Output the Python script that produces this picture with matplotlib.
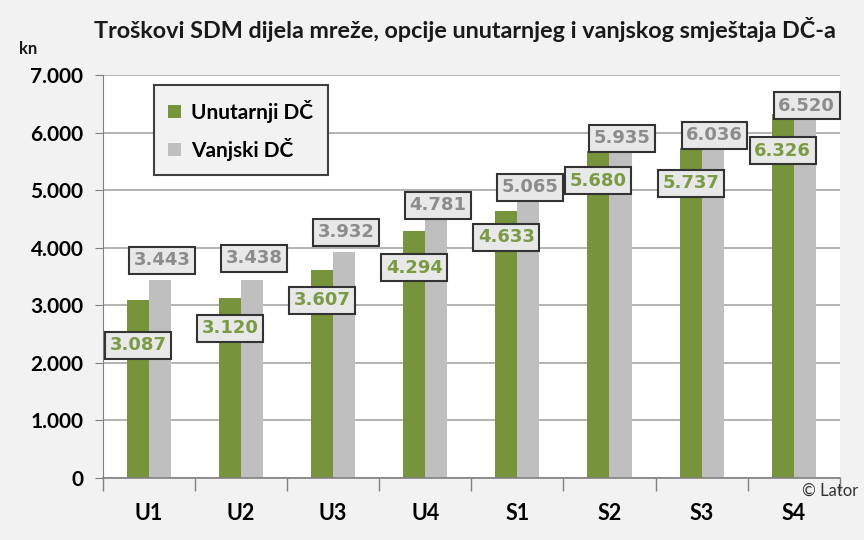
import numpy as np
import matplotlib.pyplot as plt
from matplotlib.ticker import FuncFormatter

# data (kn)
categories = ["U1", "U2", "U3", "U4", "S1", "S2", "S3", "S4"]
unutarnji = [3087, 3120, 3607, 4294, 4633, 5680, 5737, 6326]
vanjski = [3443, 3438, 3932, 4781, 5065, 5935, 6036, 6520]

# where the value boxes sit relative to the bar top (layout only)
dy_green = [-780, -520, -520, -640, -450, -520, -620, -640]
dy_gray = [340, 380, 340, -40, -15, -35, -85, -50]

green = "#77933C"
gray = "#BFBFBF"
font = ["Lato", "DejaVu Sans"]
plt.rcParams["font.family"] = font

fig = plt.figure(figsize=(8.64, 5.4), dpi=100, facecolor="#F2F2F2")
ax = fig.add_axes([0.119, 0.115, 0.853, 0.746])
ax.set_facecolor("white")

x = np.arange(len(categories))
w = 0.24
ax.bar(x - w / 2, unutarnji, w, color=green, label="Unutarnji DČ", zorder=2)
ax.bar(x + w / 2, vanjski, w, color=gray, label="Vanjski DČ", zorder=2)

box = dict(boxstyle="square,pad=0.25", fc="#E8E8E8", ec="#333333", lw=1.5)
for i in range(len(x)):
    t = f"{unutarnji[i]:,}".replace(",", ".")
    ax.text(x[i] - w / 2, unutarnji[i] + dy_green[i], t, ha="center", va="center",
            fontsize=13, fontweight="bold", color="#7A9A45", bbox=box, zorder=4,
            family=["DejaVu Sans"])
    t = f"{vanjski[i]:,}".replace(",", ".")
    ax.text(x[i] + w / 2 + 0.02, vanjski[i] + dy_gray[i], t, ha="center", va="center",
            fontsize=13, fontweight="bold", color="#8C8C8C", bbox=box, zorder=3,
            family=["DejaVu Sans"])

ax.set_xlim(-0.5, len(categories) - 0.5)
ax.set_ylim(0, 7000)
ax.set_yticks(range(0, 7001, 1000))
ax.yaxis.set_major_formatter(FuncFormatter(lambda v, p: f"{int(v):,}".replace(",", ".")))
ax.grid(axis="y", color="#A6A6A6", lw=1.2, zorder=0)
ax.set_axisbelow(True)

ax.set_xticks(np.arange(-0.5, len(categories), 1.0))
ax.set_xticklabels([])
ax.set_xticks(x, minor=True)
ax.set_xticklabels(categories, minor=True)
ax.tick_params(axis="x", which="major", length=9, color="#808080", width=1)
ax.tick_params(axis="x", which="minor", length=0, pad=18, labelsize=15.5)
ax.tick_params(axis="y", length=6, color="#808080", labelsize=15, pad=8)
for lab in ax.get_xticklabels(minor=True) + ax.get_yticklabels():
    lab.set_fontweight("bold")

for s in ["top", "right"]:
    ax.spines[s].set_visible(False)
ax.spines["left"].set_color("#808080")
ax.spines["bottom"].set_color("#808080")
ax.spines["bottom"].set_linewidth(1.2)

leg = ax.legend(loc="upper left", bbox_to_anchor=(0.055, 1.0),
                prop={"weight": "bold", "size": 15}, handlelength=0.6, handleheight=0.6,
                handletextpad=0.5, labelspacing=0.7, fancybox=False, framealpha=1,
                borderpad=0.7)
leg.get_frame().set_facecolor("#F2F2F2")
leg.get_frame().set_edgecolor("#404040")
leg.get_frame().set_linewidth(1.5)

fig.text(0.538, 0.93, "Troškovi SDM dijela mreže, opcije unutarnjeg i vanjskog smještaja DČ-a",
         ha="center", fontsize=16.8, fontweight="bold", color="#1A1A1A")
fig.text(0.022, 0.9, "kn", fontsize=12, fontweight="bold", color="#1A1A1A")
fig.text(0.993, 0.082, "© Lator", ha="right", fontsize=12, color="#333333")

fig.savefig("out.png", dpi=100, facecolor=fig.get_facecolor())
